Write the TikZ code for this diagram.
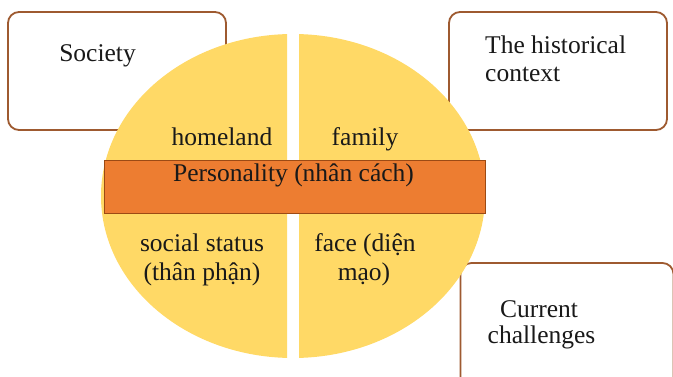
\documentclass[tikz,border=0pt]{standalone}
\usepackage{fontspec}
\setmainfont{Liberation Serif}
\definecolor{pie}{HTML}{FFD966}
\definecolor{bar}{HTML}{ED7D31}
\definecolor{barline}{HTML}{9C4A14}
\definecolor{boxline}{HTML}{9E5A30}
\tikzset{
  box/.style={draw=boxline, line width=1.8pt, rounded corners=11pt, fill=white, inner sep=0pt},
  txt/.style={font=\fontsize{25.5}{28}\selectfont, inner sep=0pt, anchor=base, text=black!90},
  txtl/.style={txt, anchor=base west},
}
\begin{document}
\begin{tikzpicture}[x=1pt,y=-1pt]
\useasboundingbox (0,0) rectangle (673,377);
\clip (0,0) rectangle (673,377);
% boxes
\node[box, minimum width=218pt, minimum height=118pt] (society) at (117,71) {};
\node[box, minimum width=218pt, minimum height=118pt] (history) at (558,71) {};
\node[box, minimum width=213pt, minimum height=137pt] (current) at (567,331.5) {};
% pie halves
\begin{scope}
  \clip (0,0) rectangle (287,377);
  \fill[pie] (293,196) ellipse [x radius=192, y radius=162];
\end{scope}
\begin{scope}
  \clip (299,0) rectangle (673,377);
  \fill[pie] (293,196) ellipse [x radius=192, y radius=162];
\end{scope}
% bar
\node[draw=barline, fill=bar, line width=1pt, minimum width=381pt, minimum height=53pt, inner sep=0pt] (bar) at (294.5,187.5) {};
% texts
\node[txt] (tsoc) at (97.5,62) {Society};
\node[txtl] (thist1) at (485,54) {The historical};
\node[txtl] (thist2) at (485,82) {context};
\node[txt] (tcur1) at (539,317) {Current};
\node[txt] (tcur2) at (541.5,344) {challenges};
\node[txt] (thome) at (222,146) {homeland};
\node[txt] (tfam) at (365,146) {family};
\node[txt] (tpers) at (293.5,182) {Personality (nhân cách)};
\node[txt] (tsoc1) at (202,252) {social status};
\node[txt] (tsoc2) at (202,280) {(thân phận)};
\node[txt] (tface1) at (365,252) {face (diện};
\node[txt] (tface2) at (364,280) {mạo)};
\end{tikzpicture}
\end{document}
